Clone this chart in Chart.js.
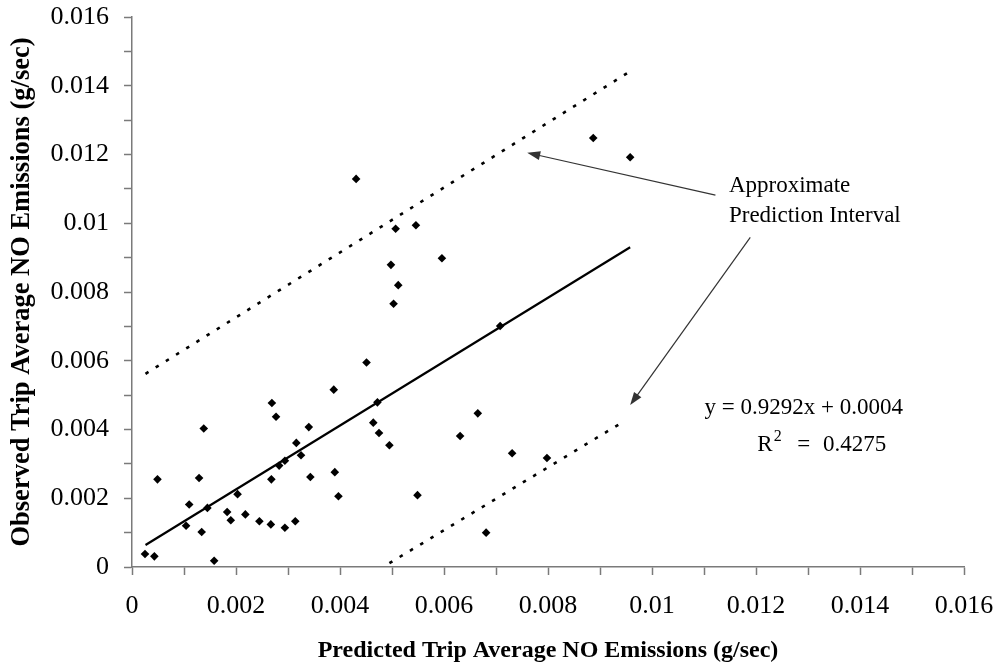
<!DOCTYPE html>
<html>
<head>
<meta charset="utf-8">
<script src="https://cdn.jsdelivr.net/npm/chart.js@4"></script>
<style>
  html, body { margin: 0; padding: 0; background: #fff; }
  #wrap { width: 995px; height: 672px; }
</style>
</head>
<body>
<div id="wrap"><canvas id="grafico" width="995" height="672"></canvas></div>
<script>
// predicted vs observed trip average NO (g/sec)
const predicho = [0.00025, 0.00043, 0.00049, 0.00104, 0.0011, 0.00129, 0.00134, 0.00138, 0.00145, 0.00158,
  0.00183, 0.0019, 0.00203, 0.00218, 0.00245, 0.00267, 0.00268, 0.00269, 0.00277, 0.00283,
  0.00294, 0.00294, 0.00314, 0.00316, 0.00325, 0.0034, 0.00343, 0.00388, 0.0039, 0.00397,
  0.00431, 0.00451, 0.00464, 0.00472, 0.00475, 0.00495, 0.00498, 0.00503, 0.00507, 0.00512,
  0.00546, 0.00549, 0.00596, 0.00631, 0.00665, 0.00681, 0.00708, 0.00731, 0.00798, 0.00887, 0.00958]
const observado = [0.00038, 0.00031, 0.00255, 0.0012, 0.00182, 0.00259, 0.00102, 0.00403, 0.00172, 0.00018,
  0.0016, 0.00136, 0.00212, 0.00153, 0.00133, 0.00124, 0.00255, 0.00477, 0.00437, 0.00295,
  0.00309, 0.00114, 0.00133, 0.00361, 0.00325, 0.00407, 0.00262, 0.00516, 0.00276, 0.00206,
  0.01129, 0.00595, 0.0042, 0.00479, 0.0039, 0.00354, 0.00879, 0.00766, 0.00984, 0.0082,
  0.00994, 0.00209, 0.00898, 0.00381, 0.00447, 0.001, 0.00701, 0.00331, 0.00317, 0.01248, 0.01192]

// trend line y = 0.9292x + 0.0004
const pendiente = 0.9292
const intercepto = 0.0004
const rangoTendencia = [0.00026, 0.00958]

// approximate prediction interval (dotted)
const limiteSuperiorX = [0.00026, 0.00957]
const limiteSuperiorY = [0.00562, 0.01441]
const limiteInferiorX = [0.00495, 0.00942]
const limiteInferiorY = [0.00011, 0.0042]

const ticksEje = [0, 0.002, 0.004, 0.006, 0.008, 0.01, 0.012, 0.014, 0.016]

const etiquetaEcuacion = 'y = 0.9292x + 0.0004'
const etiquetaR2 = '0.4275'

const fuente = '"Liberation Serif", "Times New Roman", serif'
const grisEje = '#7a7a7a'

function puntos(xs, ys){
    return xs.map((x, i) => ({x, y: ys[i]}))
}

function generarDatasets(){
    return [
        {
            label: 'Observado',
            data: puntos(predicho, observado),
            pointStyle: 'rectRot',
            pointRadius: 4.3,
            backgroundColor: '#000',
            borderColor: '#000',
            borderWidth: 0,
            showLine: false
        },
        {
            label: 'Tendencia',
            data: rangoTendencia.map(x => ({x, y: pendiente * x + intercepto})),
            showLine: true,
            borderColor: '#000',
            borderWidth: 2.2,
            pointRadius: 0
        },
        {
            label: 'Superior',
            data: puntos(limiteSuperiorX, limiteSuperiorY),
            showLine: true,
            borderColor: '#000',
            borderWidth: 2.6,
            borderDash: [3.5, 8.5],
            pointRadius: 0
        },
        {
            label: 'Inferior',
            data: puntos(limiteInferiorX, limiteInferiorY),
            showLine: true,
            borderColor: '#000',
            borderWidth: 2.6,
            borderDash: [3.5, 8.5],
            pointRadius: 0
        }
    ]
}

function formatoTick(v){
    const r = Number(v.toFixed(3))
    return ticksEje.some(t => Math.abs(t - r) < 1e-9) ? String(r) : ''
}

function escala(titulo, tamTitulo, padTitulo, padTicks, ancho, alto){
    return {
        type: 'linear',
        min: 0,
        max: 0.016,
        ticks: {
            stepSize: 0.001,
            autoSkip: false,
            maxRotation: 0,
            color: '#000',
            padding: padTicks,
            font: {family: fuente, size: 26},
            callback: formatoTick
        },
        grid: {
            drawOnChartArea: false,
            drawTicks: true,
            tickLength: 8,
            tickWidth: 1.5,
            color: grisEje
        },
        border: {color: grisEje, width: 1.5},
        title: {
            display: true,
            text: titulo,
            color: '#000',
            font: {family: fuente, size: tamTitulo, weight: 'bold'},
            padding: padTitulo
        },
        afterFit: s => {
            if (ancho) s.width = ancho
            if (alto) s.height = alto
            // no extra room for the end labels, the plot keeps its own margins
            s.paddingTop = 0
            s.paddingBottom = 0
            s.paddingLeft = 0
            s.paddingRight = 0
        }
    }
}

// arrows and labels for the interval and the fit
const anotaciones = {
    id: 'anotaciones',
    afterDraw(chart){
        const {ctx, scales: {x, y}} = chart
        const px = v => x.getPixelForValue(v)
        const py = v => y.getPixelForValue(v)

        function flecha(x0, y0, x1, y1){
            const a = Math.atan2(py(y1) - py(y0), px(x1) - px(x0))
            ctx.save()
            ctx.strokeStyle = '#333'
            ctx.fillStyle = '#333'
            ctx.lineWidth = 1.2
            ctx.beginPath()
            ctx.moveTo(px(x0), py(y0))
            ctx.lineTo(px(x1) - 8 * Math.cos(a), py(y1) - 8 * Math.sin(a))
            ctx.stroke()
            ctx.beginPath()
            ctx.moveTo(px(x1), py(y1))
            ctx.lineTo(px(x1) - 13 * Math.cos(a) + 4.5 * Math.sin(a), py(y1) - 13 * Math.sin(a) - 4.5 * Math.cos(a))
            ctx.lineTo(px(x1) - 13 * Math.cos(a) - 4.5 * Math.sin(a), py(y1) - 13 * Math.sin(a) + 4.5 * Math.cos(a))
            ctx.closePath()
            ctx.fill()
            ctx.restore()
        }

        flecha(0.01122, 0.01082, 0.0076, 0.01205)
        flecha(0.01189, 0.00959, 0.00958, 0.00471)

        ctx.save()
        ctx.fillStyle = '#000'
        ctx.font = '23px ' + fuente
        ctx.textBaseline = 'middle'
        ctx.textAlign = 'left'
        ctx.fillText('Approximate', px(0.01148), py(0.01108))
        ctx.fillText('Prediction Interval', px(0.01148), py(0.0102))

        ctx.textAlign = 'center'
        ctx.fillText(etiquetaEcuacion, px(0.01292), py(0.00464))

        // R² line, spread between its two ends
        const yR = py(0.00355)
        const izq = px(0.012025)
        const der = px(0.014506)
        ctx.textAlign = 'left'
        ctx.fillText('R', izq, yR)
        const wR = ctx.measureText('R').width
        ctx.textAlign = 'right'
        ctx.fillText(etiquetaR2, der, yR)
        const wNum = ctx.measureText(etiquetaR2).width
        ctx.textAlign = 'center'
        const xIgual = (izq + wR + 12 + der - wNum) / 2
        ctx.fillText('=', xIgual, yR)
        ctx.font = '16px ' + fuente
        ctx.textAlign = 'left'
        ctx.fillText('2', izq + wR + 1, yR - 8)
        ctx.restore()
    }
}

function crearGrafico(chartNode){
    const config = {
        type: 'scatter',
        data: {datasets: generarDatasets()},
        options: {
            responsive: false,
            animation: false,
            layout: {padding: {top: 17, right: 31, left: 0, bottom: 0}},
            plugins: {legend: {display: false}, tooltip: {enabled: false}},
            scales: {
                x: escala('Predicted Trip Average NO Emissions (g/sec)', 24, {top: 5, bottom: 7}, 16, null, 105),
                y: escala('Observed Trip Average NO Emissions (g/sec)', 26.5, {top: 6, bottom: 0}, 15, 132, null)
            }
        },
        plugins: [anotaciones]
    }
    return new Chart(chartNode, config)
}

crearGrafico(document.getElementById('grafico'))
</script>
</body>
</html>
